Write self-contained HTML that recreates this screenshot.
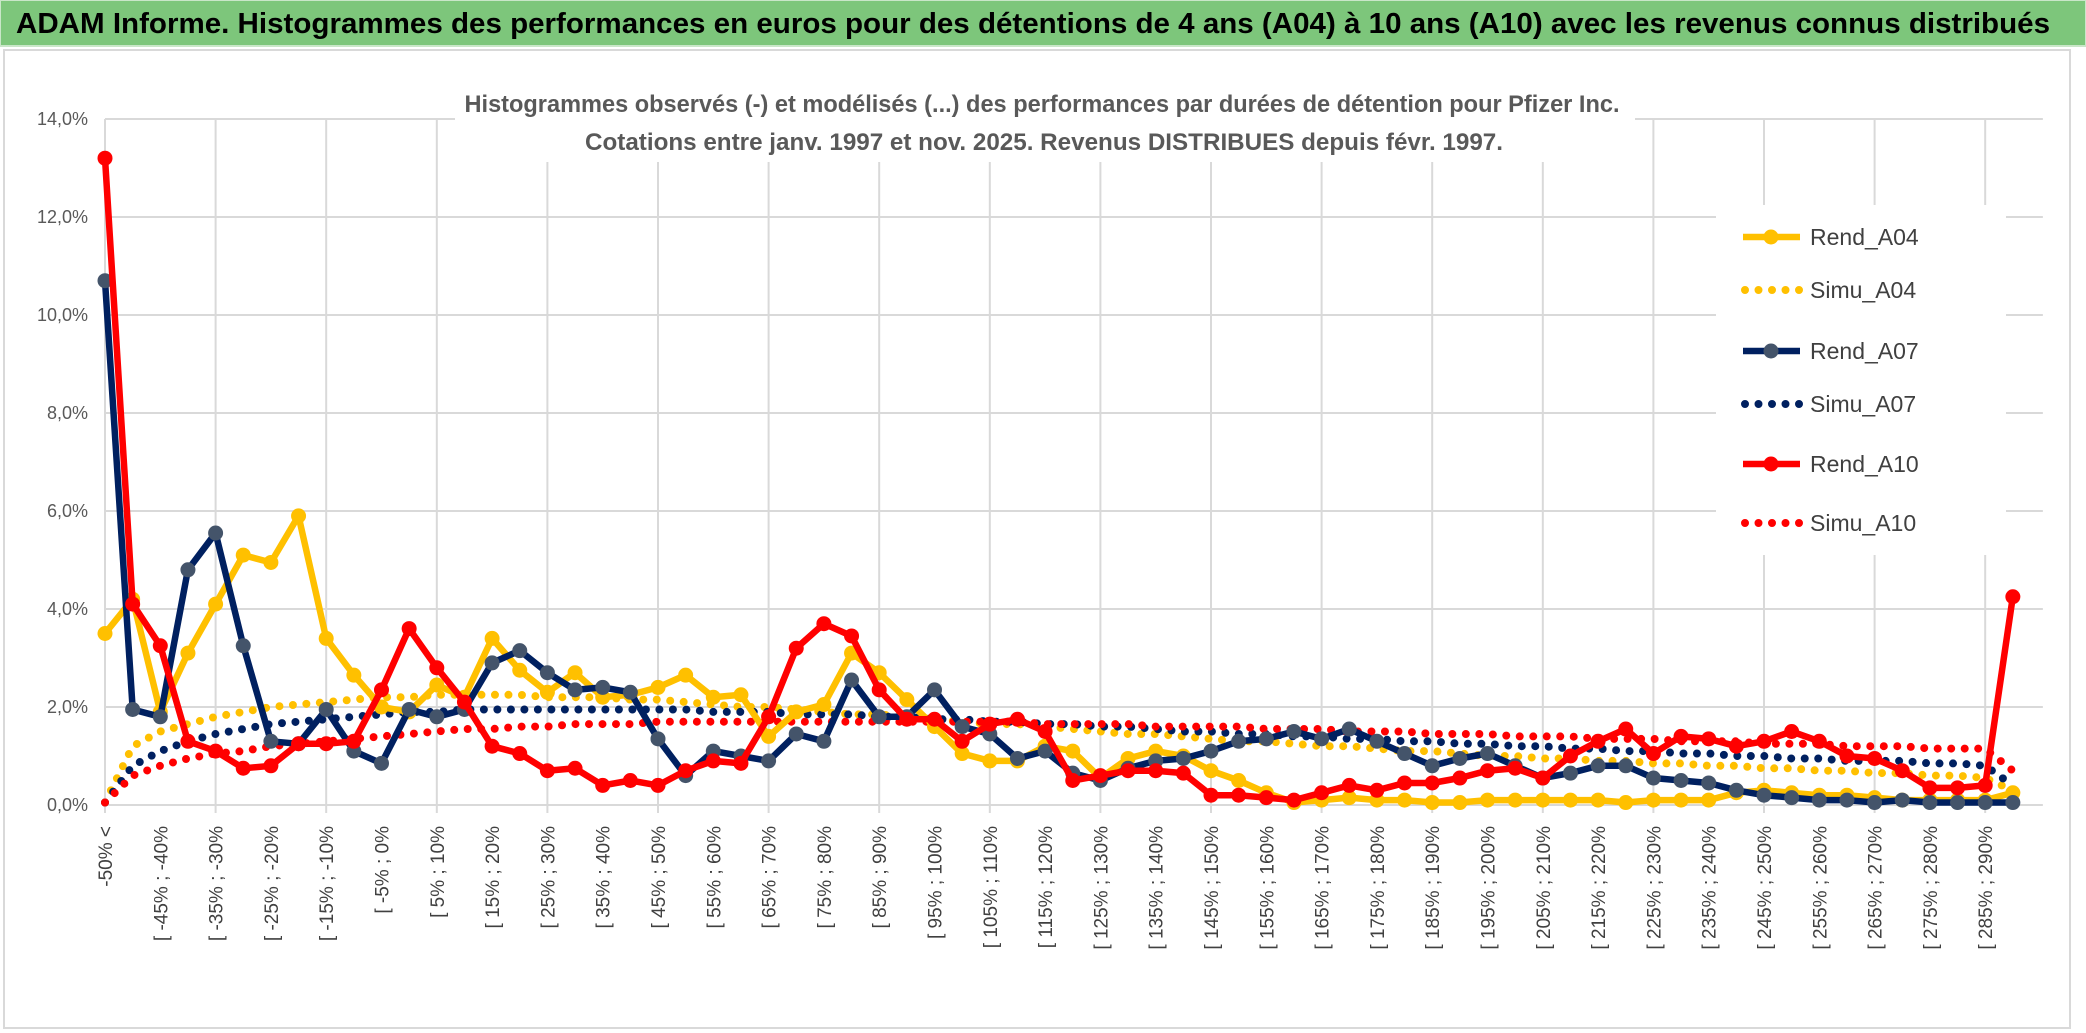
<!DOCTYPE html>
<html><head><meta charset="utf-8"><style>
html,body{margin:0;padding:0;background:#fff;}
svg{display:block;font-family:"Liberation Sans",sans-serif;}
</style></head><body>
<svg id="chart" width="2086" height="1033" viewBox="0 0 2086 1033">
<rect x="0" y="0" width="2086" height="46" fill="#7dc67b" stroke="#c9e6c8" stroke-width="2"/>
<text x="16" y="33" font-size="29" font-weight="bold" fill="#000" textLength="2034" lengthAdjust="spacingAndGlyphs">ADAM Informe. Histogrammes des performances en euros pour des détentions de 4 ans (A04) à 10 ans (A10) avec les revenus connus distribués</text>
<rect x="4" y="50" width="2066" height="978" fill="none" stroke="#d9d9d9" stroke-width="2"/>
<g id="grid"></g>
<g id="yaxis"></g>
<g id="xaxis"></g>
<rect x="455" y="80" width="1180" height="82" fill="#fff"/>
<text x="1042" y="112" font-size="24" font-weight="bold" fill="#595959" text-anchor="middle" textLength="1155" lengthAdjust="spacingAndGlyphs">Histogrammes observés (-) et modélisés (...) des performances par durées de détention pour Pfizer Inc.</text>
<text x="1044" y="150" font-size="24" font-weight="bold" fill="#595959" text-anchor="middle" textLength="918" lengthAdjust="spacingAndGlyphs">Cotations entre janv. 1997 et nov. 2025. Revenus DISTRIBUES depuis févr. 1997.</text>
<g id="series"></g>
<g id="legend"></g>
</svg>
<script>
const categories = ["-50% <","[ -50% ; -45%","[ -45% ; -40%","[ -40% ; -35%","[ -35% ; -30%","[ -30% ; -25%","[ -25% ; -20%","[ -20% ; -15%","[ -15% ; -10%","[ -10% ; -5%","[ -5% ; 0%","[ 0% ; 5%","[ 5% ; 10%","[ 10% ; 15%","[ 15% ; 20%","[ 20% ; 25%","[ 25% ; 30%","[ 30% ; 35%","[ 35% ; 40%","[ 40% ; 45%","[ 45% ; 50%","[ 50% ; 55%","[ 55% ; 60%","[ 60% ; 65%","[ 65% ; 70%","[ 70% ; 75%","[ 75% ; 80%","[ 80% ; 85%","[ 85% ; 90%","[ 90% ; 95%","[ 95% ; 100%","[ 100% ; 105%","[ 105% ; 110%","[ 110% ; 115%","[ 115% ; 120%","[ 120% ; 125%","[ 125% ; 130%","[ 130% ; 135%","[ 135% ; 140%","[ 140% ; 145%","[ 145% ; 150%","[ 150% ; 155%","[ 155% ; 160%","[ 160% ; 165%","[ 165% ; 170%","[ 170% ; 175%","[ 175% ; 180%","[ 180% ; 185%","[ 185% ; 190%","[ 190% ; 195%","[ 195% ; 200%","[ 200% ; 205%","[ 205% ; 210%","[ 210% ; 215%","[ 215% ; 220%","[ 220% ; 225%","[ 225% ; 230%","[ 230% ; 235%","[ 235% ; 240%","[ 240% ; 245%","[ 245% ; 250%","[ 250% ; 255%","[ 255% ; 260%","[ 260% ; 265%","[ 265% ; 270%","[ 270% ; 275%","[ 275% ; 280%","[ 280% ; 285%","[ 285% ; 290%","[ 290% ; 295%"];
const rendA04 = [3.5,4.2,1.9,3.1,4.1,5.1,4.95,5.9,3.4,2.65,2.0,1.9,2.45,2.2,3.4,2.75,2.3,2.7,2.2,2.25,2.4,2.65,2.2,2.25,1.4,1.9,2.05,3.1,2.7,2.15,1.6,1.05,0.9,0.9,1.2,1.1,0.55,0.95,1.1,1.0,0.7,0.5,0.25,0.05,0.1,0.15,0.1,0.1,0.05,0.05,0.1,0.1,0.1,0.1,0.1,0.05,0.1,0.1,0.1,0.25,0.3,0.25,0.2,0.2,0.15,0.1,0.1,0.1,0.1,0.25];
const rendA07 = [10.7,1.95,1.8,4.8,5.55,3.25,1.3,1.25,1.95,1.1,0.85,1.95,1.8,1.95,2.9,3.15,2.7,2.35,2.4,2.3,1.35,0.6,1.1,1.0,0.9,1.45,1.3,2.55,1.8,1.8,2.35,1.6,1.45,0.95,1.1,0.65,0.5,0.75,0.9,0.95,1.1,1.3,1.35,1.5,1.35,1.55,1.3,1.05,0.8,0.95,1.05,0.8,0.55,0.65,0.8,0.8,0.55,0.5,0.45,0.3,0.2,0.15,0.1,0.1,0.05,0.1,0.05,0.05,0.05,0.05];
const rendA10 = [13.2,4.1,3.25,1.3,1.1,0.75,0.8,1.25,1.25,1.3,2.35,3.6,2.8,2.1,1.2,1.05,0.7,0.75,0.4,0.5,0.4,0.7,0.9,0.85,1.8,3.2,3.7,3.45,2.35,1.75,1.75,1.3,1.65,1.75,1.5,0.5,0.6,0.7,0.7,0.65,0.2,0.2,0.15,0.1,0.25,0.4,0.3,0.45,0.45,0.55,0.7,0.75,0.55,1.0,1.3,1.55,1.05,1.4,1.35,1.2,1.3,1.5,1.3,1.0,0.95,0.7,0.35,0.35,0.4,4.25];
const simuA04 = [0.05,1.2,1.5,1.65,1.8,1.9,2.0,2.05,2.1,2.15,2.2,2.2,2.25,2.25,2.25,2.25,2.2,2.2,2.2,2.15,2.15,2.1,2.05,2.0,2.0,1.95,1.9,1.85,1.85,1.8,1.75,1.7,1.65,1.65,1.6,1.55,1.5,1.45,1.45,1.4,1.35,1.3,1.3,1.25,1.2,1.2,1.15,1.1,1.1,1.05,1.0,1.0,0.95,0.95,0.9,0.9,0.85,0.85,0.8,0.8,0.75,0.75,0.7,0.7,0.65,0.65,0.6,0.6,0.55,0.3];
const simuA07 = [0.05,0.8,1.1,1.3,1.45,1.55,1.65,1.7,1.75,1.8,1.85,1.9,1.9,1.95,1.95,1.95,1.95,1.95,1.95,1.95,1.95,1.95,1.9,1.9,1.9,1.85,1.85,1.85,1.8,1.8,1.75,1.75,1.7,1.7,1.65,1.65,1.6,1.6,1.55,1.5,1.5,1.45,1.45,1.4,1.4,1.35,1.35,1.3,1.3,1.25,1.25,1.2,1.2,1.15,1.15,1.1,1.1,1.05,1.05,1.0,1.0,0.95,0.95,0.9,0.9,0.9,0.85,0.85,0.8,0.4];
const simuA10 = [0.05,0.6,0.8,0.95,1.05,1.1,1.2,1.25,1.3,1.35,1.4,1.45,1.5,1.55,1.55,1.6,1.6,1.65,1.65,1.65,1.7,1.7,1.7,1.7,1.7,1.7,1.7,1.7,1.7,1.7,1.7,1.7,1.7,1.7,1.65,1.65,1.65,1.65,1.6,1.6,1.6,1.6,1.55,1.55,1.55,1.5,1.5,1.5,1.45,1.45,1.45,1.4,1.4,1.4,1.35,1.35,1.35,1.3,1.3,1.3,1.25,1.25,1.25,1.2,1.2,1.2,1.15,1.15,1.15,0.7];
const yTicks = [0,2,4,6,8,10,12,14];
const yTickLabels = ["0,0%","2,0%","4,0%","6,0%","8,0%","10,0%","12,0%","14,0%"];
const legendLabels = ["Rend_A04","Simu_A04","Rend_A07","Simu_A07","Rend_A10","Simu_A10"];

const NS = "http://www.w3.org/2000/svg";
const X0 = 105, DX = 27.65, Y0 = 805, PY = 49;
function xs(i){ return X0 + DX * i; }
function ys(v){ return Y0 - PY * v; }
function mk(tag, attrs, parent){
  const e = document.createElementNS(NS, tag);
  for (const k in attrs) e.setAttribute(k, attrs[k]);
  parent.appendChild(e);
  return e;
}
const grid = document.getElementById('grid');
const yaxis = document.getElementById('yaxis');
const xaxis = document.getElementById('xaxis');
const seriesG = document.getElementById('series');
const legend = document.getElementById('legend');
const xEnd = xs(categories.length - 1);

yTicks.forEach((t, k) => {
  const l = mk('line', {x1: X0, x2: xEnd + 30, y1: ys(t), y2: ys(t), stroke: '#d9d9d9', 'stroke-width': 2}, grid);
  
  
  const tx = mk('text', {x: 88, y: ys(t) + 6, 'font-size': 18, fill: '#595959', 'text-anchor': 'end'}, yaxis);
  tx.textContent = yTickLabels[k];
  
  
});
for (let i = 0; i < categories.length; i += 4) {
  const l = mk('line', {x1: xs(i), x2: xs(i), y1: ys(14), y2: Y0 + 8, stroke: '#d9d9d9', 'stroke-width': 2}, grid);
  
  
}
for (let i = 0; i < categories.length; i += 2) {
  const x = xs(i) + 7, y = 826;
  const tx = mk('text', {x: x, y: y, 'font-size': 19, fill: '#404040', 'text-anchor': 'end', transform: 'rotate(-90 ' + x + ' ' + y + ')'}, xaxis);
  tx.textContent = categories[i];
  
  
}

function pathD(vals){ return vals.map((v, i) => (i ? 'L' : 'M') + xs(i).toFixed(1) + ' ' + ys(v).toFixed(1)).join(' '); }
function simLine(vals, color, name){
  const p = mk('path', {d: pathD(vals), fill: 'none', stroke: color, 'stroke-width': 8, 'stroke-linecap': 'round', 'stroke-dasharray': '0 13.5'}, seriesG);
  
  
}
function obsLine(vals, color, mcolor, name){
  const g = mk('g', {}, seriesG);
  
  
  mk('path', {d: pathD(vals), fill: 'none', stroke: color, 'stroke-width': 6.5, 'stroke-linejoin': 'round'}, g);
  vals.forEach((v, i) => {
    const c = mk('circle', {cx: xs(i), cy: ys(v), r: 7.5, fill: mcolor}, g);
    
    
  });
}
simLine(simuA04, '#FFC000', 'simu-a04-line');
simLine(simuA07, '#002060', 'simu-a07-line');
simLine(simuA10, '#FF0000', 'simu-a10-line');
obsLine(rendA04, '#FFC000', '#FFC000', 'rend-a04-line');
obsLine(rendA07, '#002060', '#44546A', 'rend-a07-line');
obsLine(rendA10, '#FF0000', '#FF0000', 'rend-a10-line');

const lb = mk('rect', {x: 1716, y: 205, width: 290, height: 350, fill: '#fff'}, legend);


const legColors = ['#FFC000','#FFC000','#002060','#002060','#FF0000','#FF0000'];
const legY = [237, 290, 351, 404, 464, 523];
legendLabels.forEach((lab, k) => {
  const g = mk('g', {}, legend);
  
  
  const y = legY[k];
  if (k % 2 === 0) {
    mk('line', {x1: 1743, x2: 1800, y1: y, y2: y, stroke: legColors[k], 'stroke-width': 6.5}, g);
    mk('circle', {cx: 1771, cy: y, r: 7.5, fill: k === 2 ? '#44546A' : legColors[k]}, g);
  } else {
    mk('line', {x1: 1745, x2: 1800, y1: y, y2: y, stroke: legColors[k], 'stroke-width': 8, 'stroke-linecap': 'round', 'stroke-dasharray': '0 13.5'}, g);
  }
  const t = mk('text', {x: 1810, y: y + 8, 'font-size': 23, fill: '#404040'}, g);
  t.textContent = lab;
});
</script>
</body></html>
